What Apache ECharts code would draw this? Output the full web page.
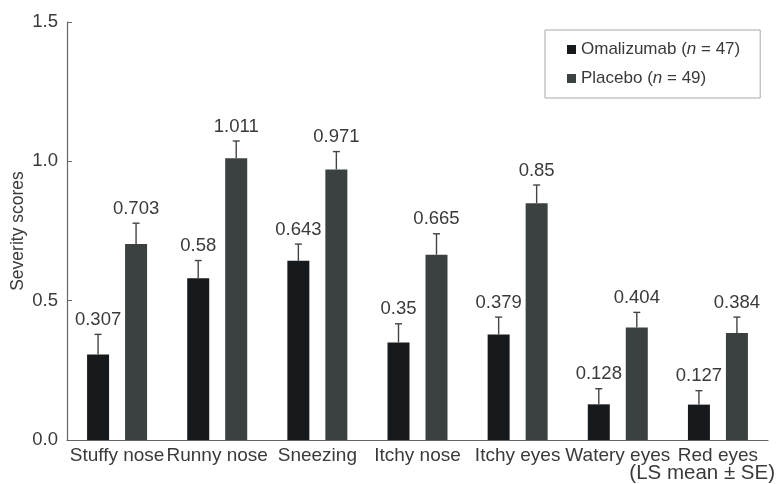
<!DOCTYPE html>
<html>
<head>
<meta charset="utf-8">
<script src="https://cdn.jsdelivr.net/npm/echarts@6/dist/echarts.min.js"></script>
<style>
  html, body { margin: 0; padding: 0; background: #fff; }
  #chart { width: 778px; height: 484px; }
</style>
</head>
<body>
<div id="chart"></div>
<script>
// Symptom categories on the x axis
const categories = ['Stuffy nose', 'Runny nose', 'Sneezing', 'Itchy nose', 'Itchy eyes', 'Watery eyes', 'Red eyes'];

// LS mean severity scores
const omalizumab = [0.307, 0.58, 0.643, 0.35, 0.379, 0.128, 0.127];
const placebo = [0.703, 1.011, 0.971, 0.665, 0.85, 0.404, 0.384];

// Standard errors
const omalizumabSE = [0.072, 0.064, 0.06, 0.067, 0.062, 0.056, 0.05];
const placeboSE = [0.075, 0.062, 0.064, 0.075, 0.065, 0.054, 0.057];

// Y axis ticks
const yTicks = [0, 0.5, 1.0, 1.5];

const FONT = '"Liberation Sans", Arial, Helvetica, sans-serif';
const TEXT = '#3a3a3a';
const COLOR_OMA = '#161a1c';
const COLOR_PLA = '#3b4041';
const BAR_W = 22;
const BAR_GAP = 16;
const HALF = (BAR_W + BAR_GAP) / 2;

// Error bar with cap and value label above it
function errorBar(offset) {
  return function (params, api) {
    const cat = api.value(0), v = api.value(1), se = api.value(2);
    const base = api.coord([cat, v]);
    const top = api.coord([cat, v + se]);
    const x = base[0] + offset;
    return {
      type: 'group',
      children: [
        { type: 'line', shape: { x1: x, y1: base[1], x2: x, y2: top[1] },
          style: { stroke: '#444', lineWidth: 1.4 } },
        { type: 'line', shape: { x1: x - 3.5, y1: top[1], x2: x + 3.5, y2: top[1] },
          style: { stroke: '#444', lineWidth: 1.4 } },
        { type: 'text', x: x, y: top[1] - 5,
          style: { text: String(v), fill: TEXT, font: '18.5px ' + FONT,
                   align: 'center', verticalAlign: 'bottom' } }
      ]
    };
  };
}

const chart = echarts.init(document.getElementById('chart'));
chart.setOption({
  animation: false,
  backgroundColor: '#fff',
  grid: { left: 67, right: 10, top: 22, bottom: 44, containLabel: false, outerBoundsMode: 'none' },
  legend: {
    orient: 'vertical',
    left: 545, top: 30,
    padding: [11, 20, 11, 22],
    borderColor: '#a8a8a8', borderWidth: 1,
    itemGap: 12,
    itemWidth: 9, itemHeight: 9,
    icon: 'rect',
    data: ['Omalizumab', 'Placebo'],
    formatter: function (name) {
      const n = name === 'Omalizumab' ? 47 : 49;
      return '{a|' + name + ' (}{i|n}{a| = ' + n + ')}';
    },
    textStyle: {
      color: TEXT, fontFamily: FONT, fontSize: 17,
      rich: {
        a: { color: TEXT, fontFamily: FONT, fontSize: 17 },
        i: { color: TEXT, fontFamily: FONT, fontSize: 17, fontStyle: 'italic' }
      }
    }
  },
  xAxis: {
    type: 'category',
    data: categories,
    axisLine: { lineStyle: { color: '#666', width: 1.2 } },
    axisTick: { inside: true, length: 4, lineStyle: { color: '#777' } },
    axisLabel: { color: TEXT, fontFamily: FONT, fontSize: 19, margin: 6, interval: 0 }
  },
  yAxis: {
    type: 'value',
    min: yTicks[0], max: yTicks[yTicks.length - 1], interval: 0.5,
    name: 'Severity scores',
    nameLocation: 'middle',
    nameGap: 40,
    nameMoveOverlap: false,
    nameTextStyle: { color: TEXT, fontFamily: FONT, fontSize: 17.5 },
    splitLine: { show: false },
    axisLine: { show: true, lineStyle: { color: '#666', width: 1.2 } },
    axisTick: { show: true, inside: true, length: 5, lineStyle: { color: '#666' } },
    axisLabel: { color: TEXT, fontFamily: FONT, fontSize: 18.5, margin: 9,
                 formatter: v => v.toFixed(1) }
  },
  series: [
    { name: 'Omalizumab', type: 'bar', data: omalizumab, barWidth: BAR_W,
      barGap: (BAR_GAP / BAR_W * 100) + '%', itemStyle: { color: COLOR_OMA } },
    { name: 'Placebo', type: 'bar', data: placebo, barWidth: BAR_W,
      itemStyle: { color: COLOR_PLA } },
    { type: 'custom', renderItem: errorBar(-HALF), z: 5,
      encode: { x: 0, y: 1 },
      data: omalizumab.map((v, i) => [i, v, omalizumabSE[i]]) },
    { type: 'custom', renderItem: errorBar(HALF), z: 5,
      encode: { x: 0, y: 1 },
      data: placebo.map((v, i) => [i, v, placeboSE[i]]) }
  ],
  graphic: [
    { type: 'text', right: 3, bottom: 0,
      style: { text: '(LS mean \u00b1 SE)', fill: TEXT, font: '20.5px ' + FONT } }
  ]
});
</script>
</body>
</html>
